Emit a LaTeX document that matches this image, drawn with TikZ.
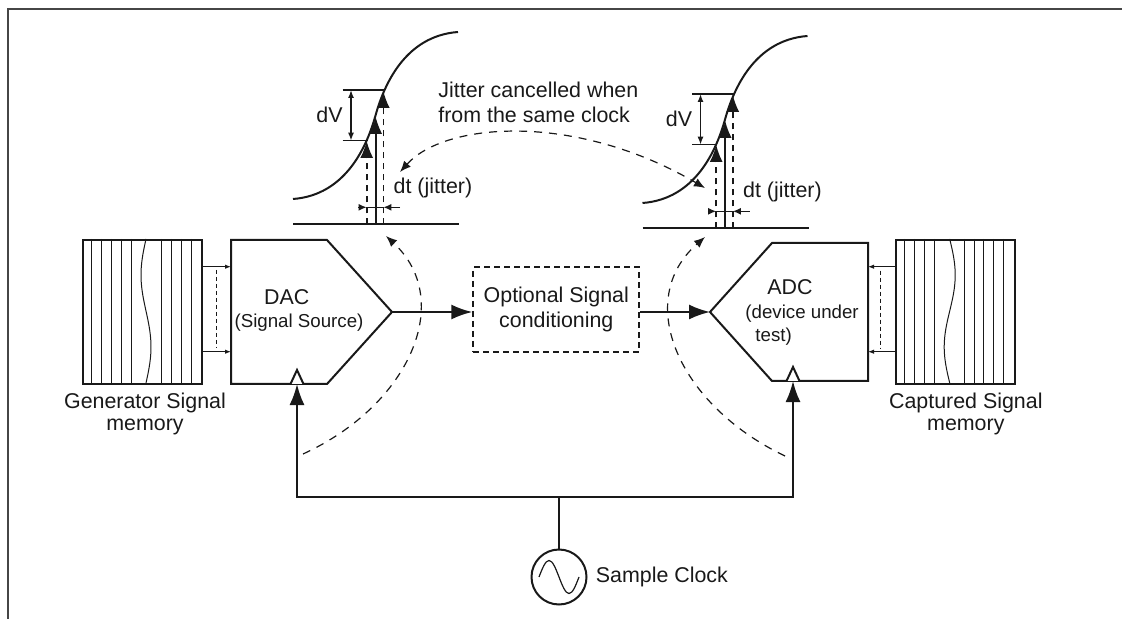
\documentclass[tikz,border=0pt]{standalone}
\usepackage{fontspec}
\setmainfont{Liberation Sans}
\usetikzlibrary{arrows.meta,positioning,calc}
\definecolor{ink}{RGB}{25,25,25}
\definecolor{framec}{RGB}{70,70,70}
\newcommand\mainsz{\fontsize{10.7pt}{12.5pt}\selectfont}
\newcommand\subsz{\fontsize{9.35pt}{11.7pt}\selectfont}
\tikzset{lbl/.style={inner sep=0pt,font=\mainsz,text=ink},sublbl/.style={inner sep=0pt,font=\subsz,text=ink},mem/.style={draw=ink,line width=1pt,minimum width=59.5pt,minimum height=72pt,inner sep=0pt},conv/.style={draw=ink,line width=1pt,line join=miter},flow/.style={-{Latex[length=10.5pt,width=7.5pt]},line width=1pt,draw=ink},feed/.style={-{Latex[length=3pt,width=2.2pt]},line width=0.5pt,draw=ink},jit/.style={line width=0.6pt,dash pattern=on 4pt off 3.5pt,draw=ink},probe/.style={-{Latex[length=8.5pt,width=6.5pt]},line width=0.8pt,draw=ink},dimen/.style={line width=0.75pt,draw=ink},fine/.style={line width=0.5pt,draw=ink},>={Latex[length=5.5pt,width=4.5pt]}}
\begin{document}
\begin{tikzpicture}[x=0.5pt,y=-0.5pt,node distance=4pt]
\useasboundingbox (0,0) rectangle (1122,619);
\draw[framec,line width=0.75pt] (1122,9) -- (8,9) -- (8,619);
\node[mem] (gmem) at (142.5,312) {};
\node[mem] (cmem) at (955.2,312) {};
\begin{scope}[shift={(gmem.north west)}]
\foreach \k in {1,2,3,4,5,8,9,10,11} \draw[fine] (\k*9.92,0) -- (\k*9.92,144);
\draw[fine] plot[domain=0:144,samples=30,smooth,variable=\t] ({64-5*sin(2.5*\t)},\t);
\end{scope}
\begin{scope}[shift={(cmem.north west)}]
\foreach \k in {1,2,3,4,7,8,9,10,11} \draw[fine] (\k*9.92,0) -- (\k*9.92,144);
\draw[fine] plot[domain=0:144,samples=30,smooth,variable=\t] ({55+5.5*sin(2.5*\t)},\t);
\end{scope}
\node[lbl,align=center] (gmeml) at (145,414) {Generator Signal\\[-1.3pt]memory};
\node[lbl,align=center] (cmeml) at (965.8,414) {Captured Signal\\[-1.3pt]memory};
\draw[conv] (231,240) -- (327,240) -- (392,312) -- (327,384) -- (231,384) -- cycle;
\draw[conv] (710,312) -- (772,243) -- (868,243) -- (868,381) -- (772,381) -- cycle;
\draw[conv,fill=white] (290.5,384) -- (297,370) -- (303.5,384);
\draw[conv,fill=white] (786.5,381) -- (793,367) -- (799.5,381);
\coordinate (dactip) at (392,312);
\coordinate (adctip) at (710,312);
\coordinate (dacclk) at (297,384);
\coordinate (adcclk) at (793,381);
\coordinate (din1) at (231,266.7);
\coordinate (din2) at (231,351.7);
\coordinate (ain1) at (868,266.7);
\coordinate (ain2) at (868,351.7);
\node[lbl] (dacl) at (286.7,296.7) {DAC};
\node[sublbl] (dacs) at (299,323) {(Signal Source)};
\node[lbl] (adcl) at (790,287.3) {ADC};
\node[sublbl,align=left,anchor=west] (adcs) at (745,325) {(device under\\\hspace*{5pt}test)};
\draw[feed] (gmem.east |- din1) -- (din1);
\draw[feed] (gmem.east |- din2) -- (din2);
\draw[fine,dash pattern=on 2pt off 1.5pt] (216.7,270) -- (216.7,348);
\draw[feed] (cmem.west |- ain1) -- (ain1);
\draw[feed] (cmem.west |- ain2) -- (ain2);
\draw[fine,dash pattern=on 2pt off 1.5pt] (880,270.7) -- (880,348);
\node[draw=ink,line width=1pt,dash pattern=on 3pt off 2pt,minimum width=83pt,minimum height=42.2pt,align=center,font=\mainsz,text=ink] (opt) at (556.3,309.5) {Optional Signal\\[0.3pt]conditioning};
\draw[flow] (dactip) -- (dactip -| opt.west);
\draw[flow] (adctip -| opt.east) -- (adctip);
\node[circle,draw=ink,line width=1pt,minimum size=27.5pt,inner sep=0pt] (clk) at (559,577) {};
\draw[fine,line width=0.6pt] (clk.center) ++(-20,0) sin ++(10,-16.5) cos ++(10,16.5) sin ++(10,16.5) cos ++(10,-16.5);
\node[lbl,right=4pt of clk] (clkl) {Sample Clock};
\coordinate (bus) at (559,496.5);
\draw[flow] (clk.north) |- (dacclk |- bus) -- (dacclk);
\draw[flow] (clk.north) |- (adcclk |- bus) -- (adcclk);
\foreach \sx/\sy/\s in {0/0/l,349.5/4/r}{
\begin{scope}[shift={(\sx,\sy)}]
\draw[line width=1pt,ink] (293,199) .. controls (346,195) and (367,146) .. (375.5,115.5) .. controls (384,85) and (405,36) .. (458,32);
\draw[line width=1pt,ink] (293,224.3) -- (459,224.3);
\draw[dimen] (342.7,90) -- (385,90) (342.7,140.7) -- (367.5,140.7);
\draw[dimen,{Latex[length=4pt,width=3pt]}-{Latex[length=4pt,width=3pt]}] (351,90) -- (351,140.7);
\node[lbl,anchor=east] (dv\s) at (343,115) {dV};
\draw[probe,dash pattern=on 3pt off 2.5pt] (366.7,224.3) -- (366.7,141);
\draw[probe] (375.7,224.3) -- (375.7,117);
\draw[probe,dash pattern=on 3pt off 2.5pt] (383.3,224.3) -- (383.3,91);
\draw[dimen] (366.7,207.3) -- (383.3,207.3);
\draw[dimen,-{Latex[length=4pt,width=3.5pt]}] (358.3,207.3) -- (366.7,207.3);
\draw[dimen,-{Latex[length=4pt,width=3.5pt]}] (400,207.3) -- (383.3,207.3);
\node[lbl,anchor=west] (dt\s) at (393.3,188.3) {dt (jitter)};
\end{scope}}
\node[lbl,align=left,anchor=west] (jtxt) at (438,102) {Jitter cancelled when\\from the same clock};
\coordinate (jl) at (400,172);
\coordinate (jr) at (705,188);
\draw[jit,<->] (jl) .. controls (445,122) and (575,112) .. (jr);
\coordinate (dacfrom) at (303,454);
\coordinate (dacto) at (386,236);
\draw[jit,->] (dacfrom) .. controls (410,405) and (455,300) .. (dacto);
\coordinate (adcfrom) at (785,456);
\coordinate (adcto) at (705,237);
\draw[jit,->] (adcfrom) .. controls (678,405) and (633,300) .. (adcto);
\end{tikzpicture}
\end{document}
